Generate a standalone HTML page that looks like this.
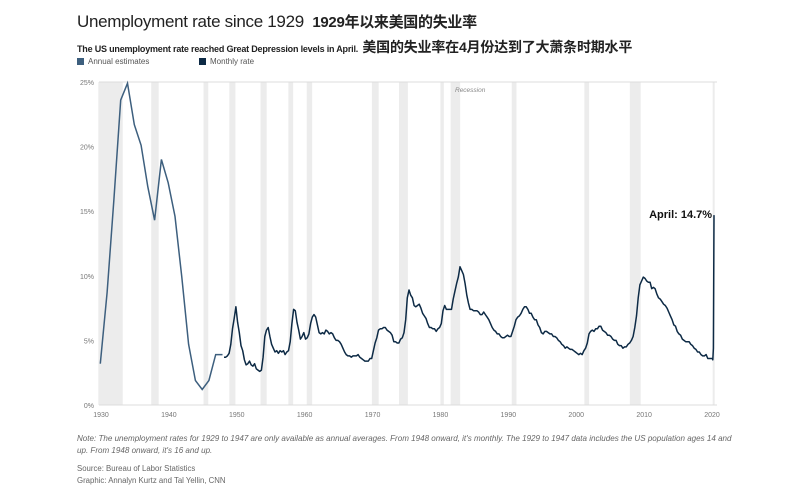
<!DOCTYPE html>
<html><head><meta charset="utf-8"><style>
body{margin:0;background:#fff;width:798px;height:500px;overflow:hidden;font-family:"Liberation Sans","Noto Sans CJK SC",sans-serif;}
.t{position:absolute;white-space:nowrap;}
</style></head><body>
<div class="t" style="left:77px;top:11px;font-size:17px;color:#222;letter-spacing:-0.3px">Unemployment rate since 1929 <b style="font-size:15px;margin-left:4px">1929年以来美国的失业率</b></div>
<div class="t" style="left:77px;top:37px;font-size:9px;color:#222;font-weight:bold;letter-spacing:-0.2px">The US unemployment rate reached Great Depression levels in April. <span style="font-size:14px;margin-left:2px">美国的失业率在4月份达到了大萧条时期水平</span></div>
<div class="t" style="left:77px;top:57px;font-size:8px;color:#555"><span style="display:inline-block;width:7px;height:7px;background:#3d5f7e;margin-right:4px;vertical-align:-1px"></span>Annual estimates</div>
<div class="t" style="left:199px;top:57px;font-size:8px;color:#555"><span style="display:inline-block;width:7px;height:7px;background:#0d2a45;margin-right:4px;vertical-align:-1px"></span>Monthly rate</div>
<svg id="chart" width="798" height="430" style="position:absolute;left:0;top:0"></svg>
<div class="t" style="left:77px;top:433px;font-size:8.05px;color:#666;font-style:italic;line-height:12px">Note: The unemployment rates for 1929 to 1947 are only available as annual averages. From 1948 onward, it's monthly. The 1929 to 1947 data includes the US population ages 14 and<br>up. From 1948 onward, it's 16 and up.</div>
<div class="t" style="left:77px;top:463px;font-size:7.8px;color:#666;line-height:12px">Source: Bureau of Labor Statistics<br>Graphic: Annalyn Kurtz and Tal Yellin, CNN</div>
<script>
const annualYears=[1929,1930,1931,1932,1933,1934,1935,1936,1937,1938,1939,1940,1941,1942,1943,1944,1945,1946,1947];
const annualValues=[3.2,8.7,15.9,23.6,24.9,21.7,20.1,16.9,14.3,19.0,17.2,14.6,9.9,4.7,1.9,1.2,1.9,3.9,3.9];
const quarterlyStart=1948;
const quarterlyValues=[3.7,3.7,3.8,4.0,4.7,5.9,6.7,7.6,6.4,5.6,4.6,4.2,3.5,3.1,3.2,3.4,3.1,3.0,3.2,2.8,2.7,2.6,2.7,3.7,
5.3,5.8,6.0,5.3,4.7,4.4,4.1,4.2,4.0,4.2,4.1,4.2,3.9,4.1,4.2,4.9,6.3,7.4,7.3,6.4,5.8,5.1,5.3,5.6,5.1,5.2,5.5,6.3,
6.8,7.0,6.8,6.2,5.6,5.5,5.6,5.5,5.8,5.7,5.5,5.6,5.5,5.2,5.0,5.0,4.9,4.7,4.4,4.1,3.9,3.8,3.8,3.7,3.8,3.8,3.8,3.9,
3.7,3.6,3.5,3.4,3.4,3.4,3.6,3.6,4.2,4.8,5.2,5.8,5.9,5.9,6.0,6.0,5.8,5.7,5.6,5.4,4.9,4.9,4.8,4.8,5.1,5.2,5.6,6.6,
8.3,8.9,8.5,8.3,7.7,7.6,7.7,7.8,7.5,7.1,6.9,6.7,6.3,6.0,6.0,5.9,5.9,5.7,5.9,6.0,6.3,7.3,7.7,7.4,7.4,7.4,7.4,8.2,
8.8,9.4,9.9,10.7,10.4,10.1,9.4,8.5,7.9,7.4,7.4,7.3,7.3,7.3,7.2,7.0,7.0,7.2,7.0,6.8,6.6,6.3,6.0,5.8,5.7,5.5,5.5,5.3,
5.2,5.2,5.3,5.4,5.3,5.3,5.7,6.1,6.6,6.8,6.9,7.1,7.4,7.6,7.6,7.4,7.1,7.1,6.8,6.6,6.6,6.2,6.0,5.6,5.5,5.7,5.7,5.6,
5.5,5.5,5.3,5.3,5.2,5.0,4.9,4.7,4.6,4.4,4.5,4.4,4.3,4.3,4.2,4.1,4.0,3.9,4.0,3.9,4.2,4.4,4.8,5.5,5.7,5.8,5.7,5.9,
5.9,6.1,6.1,5.8,5.7,5.6,5.4,5.4,5.3,5.1,5.0,5.0,4.7,4.6,4.6,4.4,4.5,4.5,4.7,4.8,5.0,5.3,6.0,6.9,8.3,9.3,9.6,9.9,
9.8,9.6,9.5,9.5,9.0,9.1,9.0,8.6,8.3,8.2,8.0,7.8,7.7,7.5,7.2,6.9,6.6,6.2,6.1,5.7,5.5,5.4,5.1,5.0,4.9,4.9,4.9,4.7,
4.6,4.4,4.3,4.1,4.1,3.9,3.8,3.8,3.9,3.6,3.6,3.6];
const months2020=[1,2,3,4];
const values2020=[3.6,3.5,4.4,14.7];
const recessions=[[1929.6,1933.2],[1937.4,1938.5],[1945.1,1945.8],[1948.9,1949.8],[1953.5,1954.4],[1957.6,1958.3],[1960.3,1961.1],[1969.9,1970.9],[1973.9,1975.2],[1980.0,1980.5],[1981.5,1982.9],[1990.5,1991.2],[2001.2,2001.9],[2007.9,2009.5],[2020.1,2020.3]];
const yTicks=[0,5,10,15,20,25];
const xTicks=[1930,1940,1950,1960,1970,1980,1990,2000,2010,2020];
const x=y=>101+(y-1930)*(611/90);
const yS=v=>405-v*(323/25);
const svg=document.getElementById('chart');const NS='http://www.w3.org/2000/svg';
function mk(t,a){const e=document.createElementNS(NS,t);for(const k in a)e.setAttribute(k,a[k]);svg.appendChild(e);return e;}
recessions.forEach(r=>{const e=mk('rect',{x:x(r[0]),y:yS(25),width:Math.max(2,x(r[1])-x(r[0])),height:yS(0)-yS(25),fill:'#ececec'});

});
yTicks.forEach(v=>{if(v===25||v===0){const l=mk('line',{x1:99,x2:717,y1:yS(v),y2:yS(v),stroke:'#ddd','stroke-width':1});

}
const t=mk('text',{x:94,y:yS(v)+3,'text-anchor':'end','font-size':7,fill:'#777','font-family':'Liberation Sans'});t.textContent=v+'%';

});
xTicks.forEach(yr=>{const t=mk('text',{x:x(yr),y:417,'text-anchor':'middle','font-size':7,fill:'#777','font-family':'Liberation Sans'});t.textContent=yr;

});
const rl=mk('text',{x:455,y:92,'font-size':6.5,fill:'#888','font-style':'italic','font-family':'Liberation Sans'});rl.textContent='Recession';


const ap=annualYears.map((yr,i)=>x(yr+0.9).toFixed(1)+','+yS(annualValues[i]).toFixed(1)).join(' ');
const al=mk('polyline',{points:ap,fill:'none',stroke:'#3d5f7e','stroke-width':1.5});


let mp=quarterlyValues.map((v,i)=>x(quarterlyStart+i/4+0.125).toFixed(1)+','+yS(v).toFixed(1));
months2020.forEach((m,i)=>mp.push(x(2020+(m-0.5)/12).toFixed(1)+','+yS(values2020[i]).toFixed(1)));
const ml=mk('polyline',{points:mp.join(' '),fill:'none',stroke:'#0d2a45','stroke-width':1.5,'stroke-linejoin':'round'});


const lab=mk('text',{x:x(2020.3)-2,y:yS(values2020[3])+3,'text-anchor':'end','font-size':11,'font-weight':'bold',fill:'#111','font-family':'Liberation Sans'});lab.textContent='April: 14.7%';


</script>
</body></html>
